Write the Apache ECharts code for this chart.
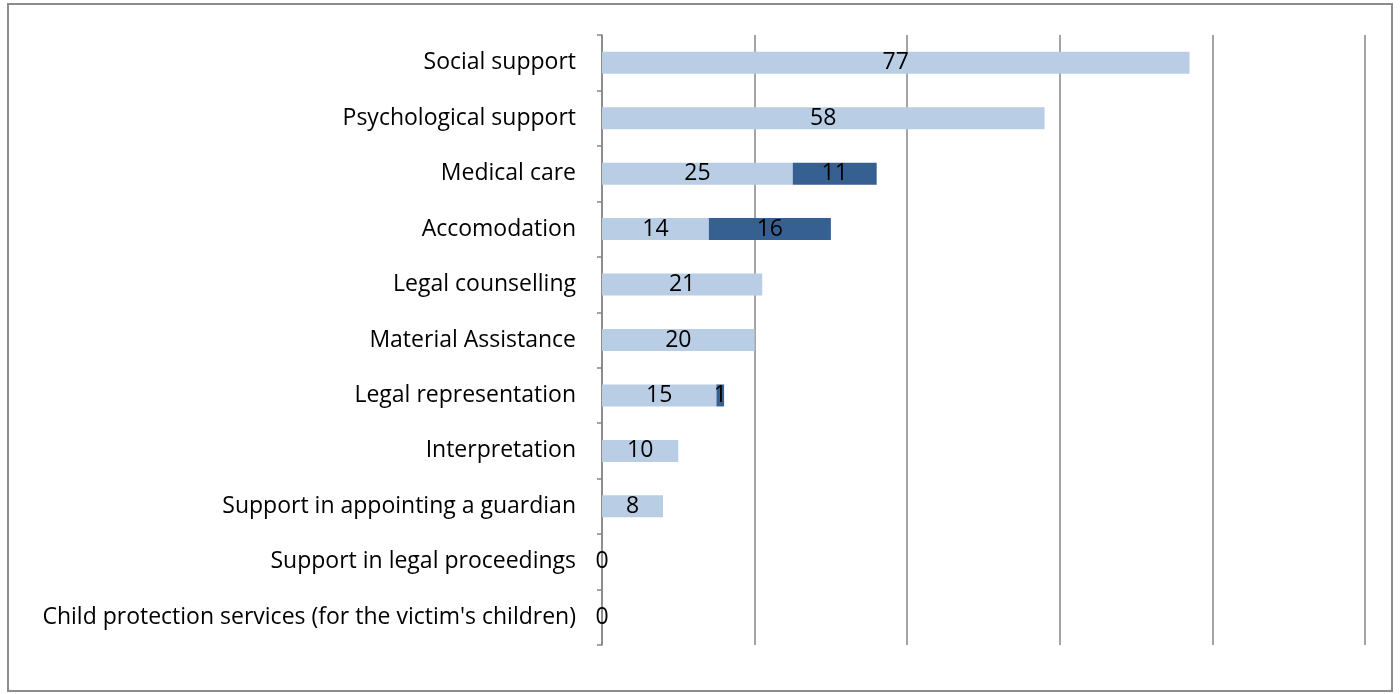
<!DOCTYPE html>
<html><head><meta charset="utf-8">
<script src="https://cdn.jsdelivr.net/npm/echarts@6/dist/echarts.min.js"></script>
<style>html,body{margin:0;padding:0;background:#fff}#c{width:1400px;height:694px}</style>
</head><body><div id="c"></div>
<script>
const categories = ["Social support","Psychological support","Medical care","Accomodation","Legal counselling","Material Assistance","Legal representation","Interpretation","Support in appointing a guardian","Support in legal proceedings","Child protection services (for the victim's children)"];
const series1 = [77,58,25,14,21,20,15,10,8,0,0];
const series2 = [null,null,11,16,null,null,1,null,null,null,null];
const xTicks = {min:0,max:100,interval:20};

const chart = echarts.init(document.getElementById('c'), null, {renderer:'canvas'});
const font = 'Open Sans';
const lbl = {show:true, position:'inside', color:'#000', fontSize:23, fontFamily:font};
chart.setOption({
  animation:false,
  graphic:[{type:'rect', shape:{x:8,y:4,width:1384,height:687}, style:{fill:'none', stroke:'#8c8c8c', lineWidth:2}}],
  grid:{left:602, top:35, width:763, height:610, containLabel:false},
  xAxis:{type:'value', min:xTicks.min, max:xTicks.max, interval:xTicks.interval,
    axisLabel:{show:false}, axisLine:{show:false}, axisTick:{show:false},
    splitLine:{show:true, lineStyle:{color:'#868686', width:1.5}}},
  yAxis:{type:'category', inverse:true, data:categories,
    axisLine:{show:true, lineStyle:{color:'#868686', width:1.5}},
    axisTick:{show:true, length:5, lineStyle:{color:'#868686', width:1.5}},
    axisLabel:{margin:26, color:'#000', fontSize:23, fontFamily:font}},
  series:[
    {name:'Series 1', type:'bar', stack:'s', data:series1, barWidth:22, itemStyle:{color:'#b9cde5'}, label:lbl},
    {name:'Series 2', type:'bar', stack:'s', data:series2, barWidth:22, itemStyle:{color:'#376092'}, label:lbl}
  ]
});
</script></body></html>
